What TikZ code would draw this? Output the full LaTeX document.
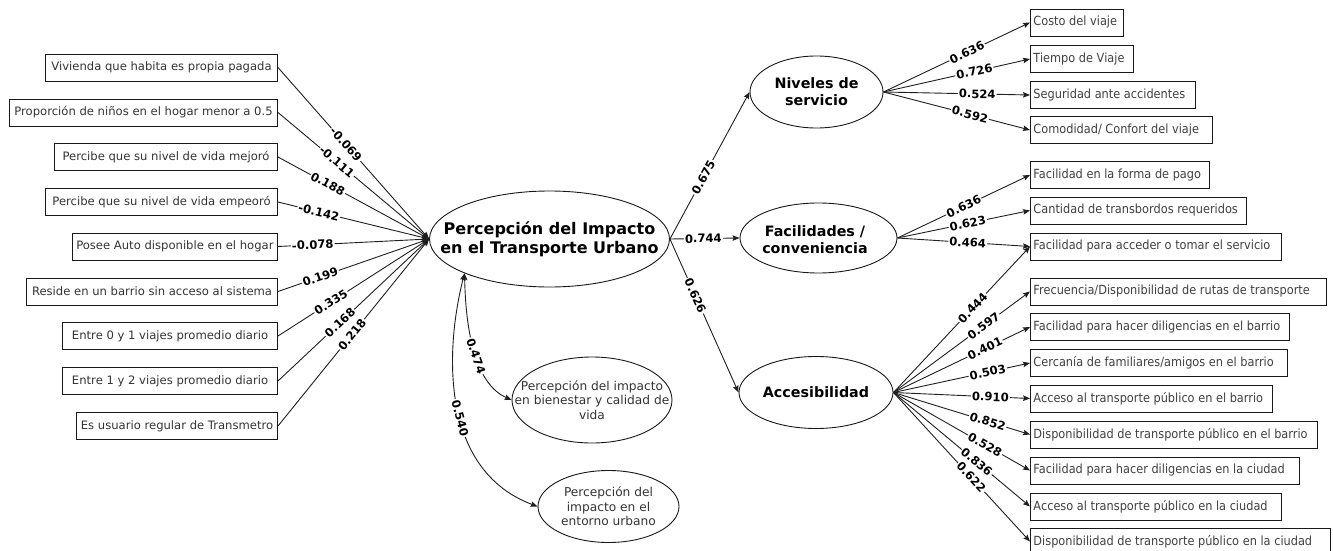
\documentclass[tikz,border=0pt]{standalone}
\usepackage{fontspec}
\setmainfont{DejaVu Sans}
\newfontfamily\itemfont[FakeStretch=0.9]{DejaVu Sans}
\usetikzlibrary{arrows.meta,shapes.geometric}

\tikzset{
  tip/.tip={Stealth[length=7pt,width=5.5pt,inset=1.2pt]},
  conn/.style={draw=black!88, line width=0.9pt, -tip},
  dconn/.style={draw=black!88, line width=0.9pt, tip-tip},
  coef/.style={fill=white, inner sep=1.1pt, sloped, text=black,
    font=\bfseries\fontsize{11.6}{12}\selectfont},
  leftbox/.style={draw=black!90, line width=0.9pt, minimum height=27pt,
    inner xsep=4pt, inner ysep=0pt, anchor=east, text=black!80,
    font=\fontsize{11.6}{14}\selectfont},
  rightbox/.style={draw=black!90, line width=0.9pt, minimum height=27pt,
    inner xsep=3pt, inner ysep=0pt, anchor=west, text=black!75,
    font=\itemfont\fontsize{12.6}{14}\selectfont},
  latent/.style={draw=black!90, ellipse, line width=0.9pt, inner sep=0pt},
  lattext/.style={align=center, text=black, font=\bfseries\fontsize{14.3}{17}\selectfont},
  softtext/.style={align=center, text=black!80, font=\fontsize{12.2}{14.5}\selectfont},
}

% indicator box on the right: name, centre y, width, text
\newcommand\indbox[4]{%
  \node[rightbox, minimum width=#3pt] (#1) at (1030,#2)
    {\makebox[\dimexpr #3pt-6pt\relax][l]{#4}};}

\begin{document}
\begin{tikzpicture}[x=1pt,y=-1pt]
\useasboundingbox (0,0) rectangle (1333,551);

% ---- exogenous variables ----
\node[leftbox, minimum width=232pt] (l1) at (278,67.5)  {Vivienda que habita es propia pagada};
\node[leftbox, minimum width=268pt] (l2) at (278,112.5) {Proporción de niños en el hogar menor a 0.5};
\node[leftbox, minimum width=223pt] (l3) at (278,157)   {Percibe que su nivel de vida mejoró};
\node[leftbox, minimum width=232pt] (l4) at (278,202)   {Percibe que su nivel de vida empeoró};
\node[leftbox, minimum width=205pt] (l5) at (278,246.5) {Posee Auto disponible en el hogar};
\node[leftbox, minimum width=251pt] (l6) at (278,291.5) {Reside en un barrio sin acceso al sistema};
\node[leftbox, minimum width=215pt] (l7) at (278,336)   {Entre 0 y 1 viajes promedio diario};
\node[leftbox, minimum width=215pt] (l8) at (278,381)   {Entre 1 y 2 viajes promedio diario};
\node[leftbox, minimum width=201pt] (l9) at (278,426)   {Es usuario regular de Transmetro};

% ---- latent constructs ----
\node[latent, minimum width=240pt, minimum height=96pt] (main) at (549.5,239) {};
\node[lattext, font=\bfseries\fontsize{16}{19}\selectfont] (maint) at (main.center)
  {Percepción del Impacto\\en el Transporte Urbano};

\node[latent, minimum width=133pt, minimum height=72pt] (niv) at (816.5,92) {};
\node[lattext] (nivt) at (niv.center) {Niveles de\\servicio};

\node[latent, minimum width=157pt, minimum height=70pt] (fac) at (818.5,238) {};
\node[lattext] (fact) at (815,240) {Facilidades /\\conveniencia};

\node[latent, minimum width=154pt, minimum height=72pt] (acc) at (816,392.5) {};
\node[lattext] (acct) at (acc.center) {Accesibilidad};

\node[latent, minimum width=160pt, minimum height=86pt] (bien) at (592,400) {};
\node[softtext] (bient) at (bien.center) {Percepción del impacto\\en bienestar y calidad de\\vida};

\node[latent, minimum width=141pt, minimum height=72pt] (ent) at (608.5,506.5) {};
\node[softtext] (entt) at (ent.center) {Percepción del\\impacto en el\\entorno urbano};

% ---- indicators ----
\indbox{r1}{22.5}{93}{Costo del viaje}
\indbox{r2}{59}{103}{Tiempo de Viaje}
\indbox{r3}{95}{165}{Seguridad ante accidentes}
\indbox{r4}{130}{182}{Comodidad/ Confort del viaje}
\indbox{r5}{175}{179}{Facilidad en la forma de pago}
\indbox{r6}{210.5}{216}{Cantidad de transbordos requeridos}
\indbox{r7}{246.5}{251}{Facilidad para acceder o tomar el servicio}
\indbox{r8}{291.5}{296}{Frecuencia/Disponibilidad de rutas de transporte}
\indbox{r9}{327}{259}{Facilidad para hacer diligencias en el barrio}
\indbox{r10}{363}{257}{Cercanía de familiares/amigos en el barrio}
\indbox{r11}{398.5}{242}{Acceso al transporte público en el barrio}
\indbox{r12}{434.5}{287}{Disponibilidad de transporte público en el barrio}
\indbox{r13}{470.5}{269}{Facilidad para hacer diligencias en la ciudad}
\indbox{r14}{506.5}{251}{Acceso al transporte público en la ciudad}
\indbox{r15}{541.5}{300}{Disponibilidad de transporte público en la ciudad}

% ---- paths into the main construct ----
\draw[conn] (l1.east) -- node[coef,pos=0.45] {-0.069} (main.west);
\draw[conn] (l2.east) -- node[coef,pos=0.39] {-0.111} (main.west);
\draw[conn] (l3.east) -- node[coef,pos=0.33] {0.188} (main.west);
\draw[conn] (l4.east) -- node[coef,pos=0.27] {-0.142} (main.west);
\draw[conn] (l5.east) -- node[coef,pos=0.23] {-0.078} (main.west);
\draw[conn] (l6.east) -- node[coef,pos=0.28] {0.199} (main.west);
\draw[conn] (l7.east) -- node[coef,pos=0.35] {0.335} (main.west);
\draw[conn] (l8.east) -- node[coef,pos=0.41] {0.168} (main.west);
\draw[conn] (l9.east) -- node[coef,pos=0.49] {0.218} (main.west);

% ---- second-order loadings ----
\draw[conn] (main.east) -- node[coef,pos=0.42] {0.675} (niv.west);
\draw[conn] (main.east) -- node[coef,pos=0.48] {0.744} (fac.west);
\draw[conn] (main.east) -- node[coef,pos=0.37] {0.626} (acc.west);

% ---- correlations ----
\draw[dconn] (main.202) .. controls (466,340) and (478,385) ..
  node[coef,pos=0.5] {0.474} (bien.west);
\draw[dconn] (main.202) .. controls (445,350) and (440,470) ..
  node[coef,pos=0.55] {0.540} (ent.west);

% ---- Niveles de servicio ----
\draw[conn] (niv.east) -- node[coef,pos=0.57] {0.636} (r1.west);
\draw[conn] (niv.east) -- node[coef,pos=0.62] {0.726} (r2.west);
\draw[conn] (niv.east) -- node[coef,pos=0.64] {0.524} (r3.west);
\draw[conn] (niv.east) -- node[coef,pos=0.59] {0.592} (r4.west);

% ---- Facilidades / conveniencia ----
\draw[conn] (fac.east) -- node[coef,pos=0.5] {0.636} (r5.west);
\draw[conn] (fac.east) -- node[coef,pos=0.53] {0.623} (r6.west);
\draw[conn] (fac.east) -- node[coef,pos=0.53] {0.464} (r7.west);

% ---- Accesibilidad ----
\draw[conn] (acc.east) -- node[coef,pos=0.58] {0.444} (r7.west);
\draw[conn] (acc.east) -- node[coef,pos=0.66] {0.597} (r8.west);
\draw[conn] (acc.east) -- node[coef,pos=0.67] {0.401} (r9.west);
\draw[conn] (acc.east) -- node[coef,pos=0.69] {0.503} (r10.west);
\draw[conn] (acc.east) -- node[coef,pos=0.71] {0.910} (r11.west);
\draw[conn] (acc.east) -- node[coef,pos=0.69] {0.852} (r12.west);
\draw[conn] (acc.east) -- node[coef,pos=0.67] {0.528} (r13.west);
\draw[conn] (acc.east) -- node[coef,pos=0.61] {0.836} (r14.west);
\draw[conn] (acc.east) -- node[coef,pos=0.57] {0.622} (r15.west);
\end{tikzpicture}
\end{document}
